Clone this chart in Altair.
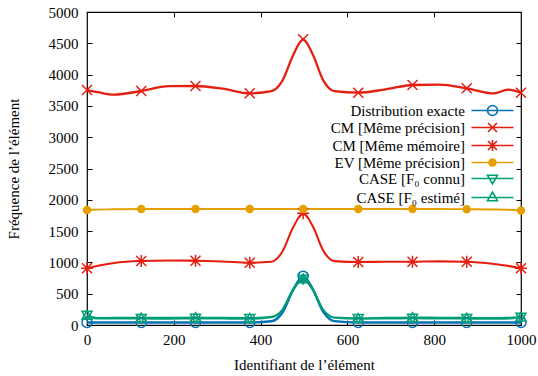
import altair as alt
import pandas as pd

# ---- data ----
xs = [0, 25, 62, 125, 188, 250, 312, 375, 425, 450, 475, 498, 520, 545, 570,
      625, 688, 750, 812, 875, 938, 970, 1000]
marker_x = [0, 125, 250, 375, 498, 625, 750, 875, 1000]

exact = [40, 40, 40, 40, 40, 40, 40, 40, 60, 195, 560, 780, 575, 205, 62,
         40, 40, 40, 40, 40, 40, 40, 40]
cm_prec = [3754, 3720, 3680, 3738, 3815, 3818, 3775, 3701, 3735, 3900, 4310, 4564, 4325, 3900, 3735,
           3711, 3765, 3834, 3840, 3781, 3700, 3760, 3711]
cm_mem = [906, 945, 990, 1022, 1030, 1027, 1015, 995, 1010, 1170, 1560, 1784, 1580, 1180, 1020,
          1006, 1010, 1011, 1016, 1011, 975, 945, 906]
ev_prec = [1838, 1843, 1848, 1853, 1853, 1853, 1853, 1853, 1853, 1853, 1853, 1853, 1853, 1853, 1853,
           1853, 1853, 1853, 1853, 1850, 1845, 1840, 1828]
case_known = [150, 100, 100, 100, 98, 102, 100, 98, 120, 235, 560, 725, 560, 230, 112,
              98, 100, 104, 102, 100, 98, 100, 120]
case_est = [160, 115, 118, 120, 118, 125, 118, 115, 135, 250, 580, 745, 580, 245, 125,
            112, 118, 125, 120, 118, 115, 118, 135]

series_names = ["Distribution exacte", "CM [Même précision]", "CM [Même mémoire]",
                "EV [Même précision]", "CASE [F₀ connu]", "CASE [F₀ estimé]"]
series_values = [exact, cm_prec, cm_mem, ev_prec, case_known, case_est]

colors = ["#0072b2", "#e51e10", "#e51e10", "#e69f00", "#009e73", "#009e73"]
line_widths = [2.5, 1.5, 1.5, 1.5, 2.2, 2.2]
fills = ["transparent", "transparent", "transparent", "#e69f00", "transparent", "transparent"]

plot_shapes = [
    "circle",
    "M-1,-1L1,1M-1,1L1,-1",
    "M-1,-1L1,1M-1,1L1,-1M-1.2,0H1.2M0,-1.2V1.2",
    "M-0.7,0A0.7,0.7,0,1,1,0.7,0A0.7,0.7,0,1,1,-0.7,0",
    "triangle-down",
    "triangle-up",
]
# legend symbols: a short line sample with the marker, drawn to the right of the label
legend_shapes = [
    "M2.33,0H9.33M5,0A0.83,0.83,0,1,1,6.66,0A0.83,0.83,0,1,1,5,0",
    "M2.33,0H9.33M5.08,-0.75L6.58,0.75M5.08,0.75L6.58,-0.75",
    "M2.33,0H9.33M5.08,-0.75L6.58,0.75M5.08,0.75L6.58,-0.75M5.83,-0.9V0.9",
    "M2.33,0H9.33M5.25,0A0.58,0.58,0,1,1,6.41,0A0.58,0.58,0,1,1,5.25,0",
    "M2.33,0H9.33M5,-0.55L6.66,-0.55L5.83,0.9Z",
    "M2.33,0H9.33M5,0.55L6.66,0.55L5.83,-0.9Z",
]

x_ticks = [0, 200, 400, 600, 800, 1000]
y_ticks = [0, 500, 1000, 1500, 2000, 2500, 3000, 3500, 4000, 4500, 5000]

rows = []
for name, vals in zip(series_names, series_values):
    for xv, yv in zip(xs, vals):
        rows.append({"x": xv, "y": yv, "series": name, "marker": xv in marker_x})
df = pd.DataFrame(rows)

W, H = 434, 313
FONT = "'Liberation Serif', 'Times New Roman', 'DejaVu Serif', serif"

xscale = alt.Scale(domain=[0, 1000], nice=False, zero=False)
yscale = alt.Scale(domain=[0, 5000], nice=False, zero=False)

base = alt.Chart(df)

lines = base.mark_line(interpolate="monotone").encode(
    x=alt.X("x:Q", scale=xscale, axis=alt.Axis(
        orient="bottom", values=x_ticks, title="Identifiant de l’élément", format="d",
        ticks=False, domain=False, grid=False, labelFont=FONT, labelFontSize=15,
        labelColor="black", labelPadding=7, titleFont=FONT, titleFontSize=15,
        titleFontWeight="normal", titleColor="black", titlePadding=10, labelFlush=False)),
    y=alt.Y("y:Q", scale=yscale, axis=alt.Axis(
        orient="left", values=y_ticks, title="Fréquence de l’élément", format="d",
        ticks=False, domain=False, grid=False, labelFont=FONT, labelFontSize=15,
        labelColor="black", labelPadding=9, titleFont=FONT, titleFontSize=15,
        titleFontWeight="normal", titleColor="black", titlePadding=27)),
    color=alt.Color("series:N", scale=alt.Scale(domain=series_names, range=colors), legend=None),
    strokeWidth=alt.StrokeWidth("series:N", scale=alt.Scale(domain=series_names, range=line_widths), legend=None),
    detail="series:N",
)

points = base.transform_filter("datum.marker").mark_point(
    filled=False, strokeWidth=1.5, opacity=1, size=100).encode(
    x=alt.X("x:Q", scale=xscale, axis=alt.Axis(
        orient="top", offset=-H, values=[200, 400, 600, 800], labels=False, ticks=True,
        tickSize=5, tickColor="black", domain=False, grid=False, title=None)),
    y=alt.Y("y:Q", scale=yscale, axis=alt.Axis(
        orient="right", offset=-W, values=y_ticks[1:-1], labels=False, ticks=True,
        tickSize=5, tickColor="black", domain=False, grid=False, title=None)),
    color=alt.Color("series:N", scale=alt.Scale(domain=series_names, range=colors), legend=None),
    shape=alt.Shape("series:N", scale=alt.Scale(domain=series_names, range=plot_shapes), legend=None),
    fill=alt.Fill("series:N", scale=alt.Scale(domain=series_names, range=fills), legend=None),
)

leg = alt.Legend(
    title=None, orient="none", legendX=363, legendY=91, labelAlign="right", labelOffset=0,
    labelFont=FONT, labelFontSize=15, labelColor="black", symbolSize=144,
    rowPadding=0, padding=0, labelLimit=300, symbolStrokeWidth=1.6, symbolOffset=0,
)

legend_layer = base.transform_filter("datum.x < 0").mark_point(
    filled=False, strokeWidth=1.6, size=144, opacity=1).encode(
    x=alt.X("x:Q", scale=xscale, axis=alt.Axis(
        orient="bottom", offset=-H, values=[200, 400, 600, 800], labels=False, ticks=True,
        tickSize=5, tickColor="black", domain=False, grid=False, title=None)),
    y=alt.Y("y:Q", scale=yscale, axis=alt.Axis(
        orient="left", offset=-W, values=y_ticks[1:-1], labels=False, ticks=True,
        tickSize=5, tickColor="black", domain=False, grid=False, title=None)),
    color=alt.Color("series:N", scale=alt.Scale(domain=series_names, range=colors), legend=leg),
    shape=alt.Shape("series:N", scale=alt.Scale(domain=series_names, range=legend_shapes), legend=leg),
    fill=alt.Fill("series:N", scale=alt.Scale(domain=series_names, range=fills), legend=leg),
)

chart = alt.layer(lines, points, legend_layer).resolve_scale(
    color="independent", shape="independent", fill="independent"
).resolve_axis(
    x="independent", y="independent"
).properties(
    width=W, height=H,
    autosize=alt.AutoSizeParams(type="none"),
    padding={"left": 87, "top": 12, "right": 17, "bottom": 51},
    background="white",
).configure(
    font=FONT
).configure_axis(
    labelFont=FONT, titleFont=FONT
).configure_legend(
    labelFont=FONT
).configure_view(
    stroke="black", strokeWidth=1.2
)

chart.save("out.html", embed_options={"renderer": "svg", "actions": False})
